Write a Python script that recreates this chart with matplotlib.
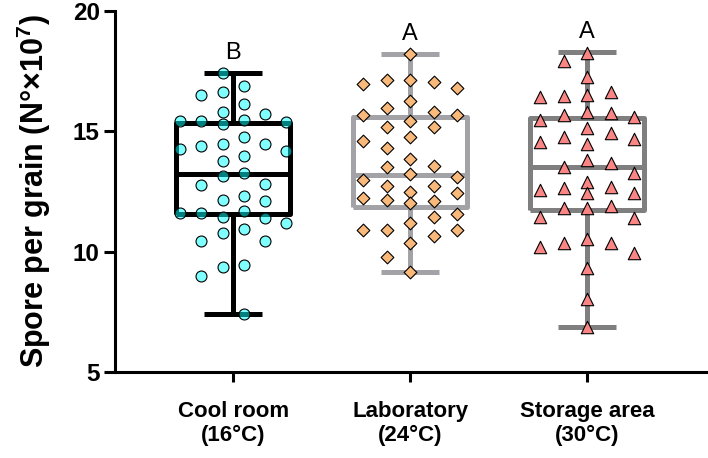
import numpy as np
import matplotlib
matplotlib.use("Agg")
import matplotlib.pyplot as plt

plt.rcParams['font.family'] = ['Liberation Sans', 'DejaVu Sans']
plt.rcParams['mathtext.fontset'] = 'custom'
plt.rcParams['mathtext.bf'] = 'Liberation Sans:bold'
plt.rcParams['mathtext.rm'] = 'Liberation Sans'

# data
groups = ["Cool room\n(16°C)", "Laboratory\n(24°C)", "Storage area\n(30°C)"]
letters = ["B", "A", "A"]

cool = [17.41, 16.88, 16.65, 16.51, 16.12, 15.79, 15.71, 15.47, 15.43, 15.43,
        15.38, 15.31, 14.75, 14.47, 14.46, 14.40, 14.28, 14.18, 13.96, 13.78,
        13.26, 13.15, 12.81, 12.76, 12.31, 12.15, 12.12, 11.70, 11.60, 11.60,
        11.43, 11.39, 11.18, 10.93, 10.76, 10.44, 10.44, 9.45, 9.38, 8.99, 7.41]
lab = [18.20, 17.13, 17.13, 17.04, 16.95, 16.81, 16.26, 15.96, 15.79, 15.68,
       15.68, 15.44, 15.19, 15.19, 14.75, 14.61, 14.32, 13.85, 13.57, 13.53,
       13.22, 13.09, 12.98, 12.74, 12.74, 12.49, 12.43, 12.24, 12.15, 12.11,
       12.04, 11.55, 11.45, 11.20, 10.90, 10.90, 10.90, 10.65, 10.37, 9.79, 9.17]
storage = [18.24, 17.94, 17.24, 16.65, 16.51, 16.48, 16.44, 15.82, 15.75, 15.68,
           15.61, 15.47, 15.13, 14.92, 14.78, 14.67, 14.55, 14.46, 13.81, 13.67,
           13.53, 13.28, 12.91, 12.70, 12.63, 12.56, 12.45, 12.45, 11.90, 11.80,
           11.80, 11.45, 11.39, 10.53, 10.35, 10.35, 10.18, 9.93, 9.31, 8.03, 6.88]

# box statistics as drawn
q1 = [11.57, 11.87, 11.73]
med = [13.22, 13.19, 13.53]
q3 = [15.33, 15.58, 15.54]
lo = [7.41, 9.17, 6.88]
hi = [17.41, 18.20, 18.28]

box_colors = ["black", "#a3a3a7", "#7f7f7f"]
face_colors = [(0, 1, 1, 0.5), "#f9b97b", "#fa8585"]
markers = ["o", "D", "^"]
sizes = [62, 42, 80]
steps = [0.119, 0.133, 0.133]
half_grid = [True, False, False]


def swarm(vals, center, step, half, dmin=0.6):
    # greedy column swarm: each point goes to the innermost free column,
    # or to the least crowded one when all columns are taken
    if half:
        slots = [-0.5, 0.5, -1.5, 1.5, -2.5, 2.5]
    else:
        slots = [0, -1, 1, -2, 2]
    placed = {s: [] for s in slots}
    xs = []
    for v in vals:
        gap = {s: min([abs(v - u) for u in placed[s]], default=99) for s in slots}
        free = [s for s in slots if gap[s] >= dmin]
        if free:
            best = min(free, key=lambda s: (abs(s), len(placed[s])))
        else:
            best = max(slots, key=lambda s: gap[s])
        placed[best].append(v)
        xs.append(center + best * step)
    return np.array(xs)


fig = plt.figure(figsize=(7.08, 4.58), dpi=100)
ax = fig.add_axes([115 / 708, 86 / 458, 593 / 708, 361 / 458])

for i in range(3):
    stats = [dict(med=med[i], q1=q1[i], q3=q3[i], whislo=lo[i], whishi=hi[i], fliers=[])]
    lp = dict(color=box_colors[i], linewidth=3.6, solid_capstyle='butt')
    ax.bxp(stats, positions=[i], widths=0.64, capwidths=0.33, showfliers=False,
           boxprops=lp, whiskerprops=lp, capprops=lp, medianprops=lp,
           manage_ticks=False, zorder=2)

for i, vals in enumerate([cool, lab, storage]):
    xs = swarm(vals, i, steps[i], half_grid[i])
    ax.scatter(xs, vals, s=sizes[i], marker=markers[i], facecolor=face_colors[i],
               edgecolor='black', linewidth=0.8, zorder=3)
    ax.text(i, hi[i] + 0.4, letters[i], ha='center', va='bottom', fontsize=17)

ax.set_ylim(5, 20)
ax.set_xlim(-0.667, 2.683)
ax.set_yticks([5, 10, 15, 20])
ax.set_xticks([0, 1, 2])
ax.set_xticklabels(groups, fontweight='bold', fontsize=16, linespacing=1.15)
for t in ax.get_yticklabels():
    t.set_fontweight('bold')
    t.set_fontsize(17.5)
ax.set_ylabel("Spore per grain (N°×10$^{\\mathbf{7}}$)", fontsize=22, fontweight='bold',
              labelpad=14)

ax.spines['top'].set_visible(False)
ax.spines['right'].set_visible(False)
ax.spines['left'].set_linewidth(2.2)
ax.spines['bottom'].set_linewidth(2.2)
ax.tick_params(axis='y', length=8, width=2.2, pad=3)
ax.tick_params(axis='x', length=7, width=2.2, pad=14)

fig.savefig("out.png", dpi=100)
